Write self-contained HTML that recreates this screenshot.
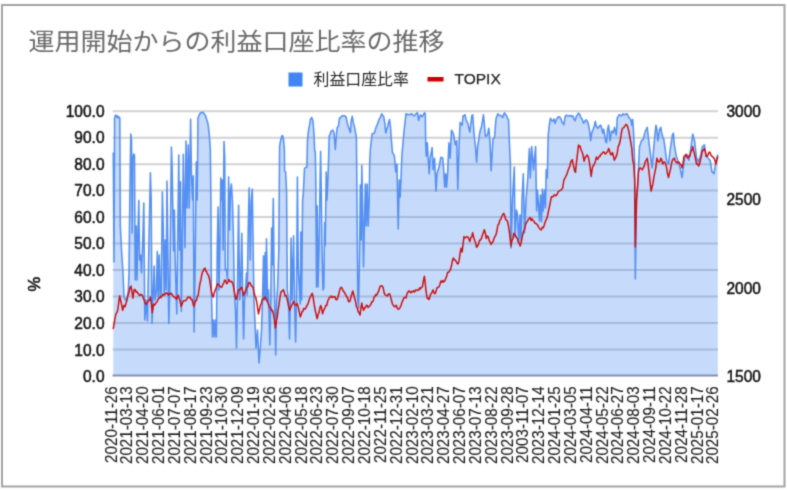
<!DOCTYPE html>
<html><head><meta charset="utf-8">
<style>
html,body{margin:0;padding:0;background:#fff;}
body{width:787px;height:491px;overflow:hidden;position:relative;}
svg{position:absolute;left:0;top:0;}
.t{font-family:"Liberation Sans","Noto Sans CJK JP",sans-serif;}
</style></head><body>
<svg width="787" height="491" viewBox="0 0 787 491">
<defs><filter id="bl" x="0" y="0" width="787" height="491" filterUnits="userSpaceOnUse" color-interpolation-filters="sRGB"><feConvolveMatrix order="3" kernelMatrix="0.02768 0.11101 0.02768 0.11101 0.44521 0.11101 0.02768 0.11101 0.02768" edgeMode="duplicate"/></filter></defs>
<g filter="url(#bl)">
<rect x="0" y="0" width="787" height="491" fill="#fff"/>
<rect x="2" y="5" width="782.5" height="481.5" fill="none" stroke="#a3a3a3" stroke-width="2"/>
<text x="28.5" y="50" transform="translate(28.5,0) scale(1.084,1) translate(-28.5,0)" font-family="'Liberation Sans','Noto Sans CJK JP',sans-serif" font-size="24" fill="#6a6a6a">運用開始からの利益口座比率の推移</text>
<rect x="288.5" y="72.5" width="14" height="14" fill="#4285f4"/>
<text x="313.5" y="85" font-family="'Liberation Sans','Noto Sans CJK JP',sans-serif" font-size="15.9" fill="#262626">利益口座比率</text>
<rect x="427.5" y="77" width="16" height="4.5" fill="#cc0000"/>
<text x="454.5" y="84" font-family="'Liberation Sans',sans-serif" font-size="15.5" fill="#222" stroke="#222" stroke-width="0.25">TOPIX</text>
<g stroke="#d2d2d2" stroke-width="2">
<line x1="112.5" x2="718.0" y1="349.43" y2="349.43"/>
<line x1="112.5" x2="718.0" y1="322.96" y2="322.96"/>
<line x1="112.5" x2="718.0" y1="296.49" y2="296.49"/>
<line x1="112.5" x2="718.0" y1="270.02" y2="270.02"/>
<line x1="112.5" x2="718.0" y1="243.55" y2="243.55"/>
<line x1="112.5" x2="718.0" y1="217.08" y2="217.08"/>
<line x1="112.5" x2="718.0" y1="190.61" y2="190.61"/>
<line x1="112.5" x2="718.0" y1="164.14" y2="164.14"/>
<line x1="112.5" x2="718.0" y1="137.67" y2="137.67"/>
<line x1="112.5" x2="718.0" y1="111.20" y2="111.20"/>
</g>
<polygon points="113.3,375.5 113.3,152.5 114.0,262.0 114.6,118.0 115.5,115.0 116.5,117.0 117.2,115.5 118.0,118.0 119.0,116.9 119.8,118.0 120.3,226.0 121.5,250.0 122.5,265.0 123.3,280.0 124.0,297.0 125.5,300.0 127.0,298.0 128.3,291.0 129.0,273.0 129.8,200.0 130.8,134.0 131.5,140.0 132.2,233.0 132.8,160.0 133.6,154.0 134.5,155.0 135.2,280.0 136.2,226.0 137.0,280.0 138.0,230.0 138.8,200.4 139.6,260.0 140.5,255.0 141.5,273.0 142.8,240.0 143.8,203.0 144.8,320.0 146.0,300.0 147.5,321.0 148.6,260.0 149.5,215.9 150.4,172.7 151.2,200.0 152.0,323.5 153.0,300.0 154.2,266.0 155.0,300.0 156.5,290.0 157.3,251.4 158.2,297.0 159.2,255.0 160.2,297.0 161.2,292.0 162.4,192.0 163.3,227.0 164.2,295.0 165.2,240.0 166.2,290.0 167.0,181.0 168.0,260.0 168.8,323.5 169.8,290.0 170.6,218.6 171.4,147.0 172.2,170.0 172.8,208.0 173.6,251.0 174.4,210.0 175.2,260.0 176.2,295.0 176.8,313.9 177.6,250.0 178.8,155.0 179.6,250.0 180.5,181.7 181.3,311.5 182.3,250.0 183.3,154.3 184.2,200.0 184.9,247.8 185.5,200.0 186.0,141.0 187.0,208.0 188.2,145.0 189.2,208.0 190.6,119.3 191.5,175.7 192.5,200.0 193.3,175.7 194.1,332.0 195.2,260.0 196.3,162.0 197.2,200.0 198.0,118.0 199.4,114.5 200.2,113.3 201.0,112.6 202.0,112.6 203.0,112.2 203.9,113.6 204.8,114.5 205.7,116.2 206.6,119.3 207.8,122.9 208.5,127.7 209.4,136.2 210.3,148.2 210.9,200.0 211.4,291.0 212.5,337.0 213.5,320.0 214.5,337.0 215.5,320.0 216.4,337.0 217.2,250.0 218.1,207.0 219.0,290.0 220.0,240.0 220.8,178.0 221.6,200.0 222.4,180.0 223.1,250.0 224.0,141.6 224.7,156.7 225.3,270.0 226.5,269.5 227.5,280.0 228.6,176.9 229.6,230.0 230.5,190.0 231.4,184.1 232.5,202.0 233.3,233.0 234.3,290.0 235.5,310.0 236.5,348.0 237.3,300.0 238.6,205.3 239.6,300.0 240.5,290.0 241.8,233.3 242.8,300.0 243.6,339.0 244.5,300.0 245.5,290.0 246.5,273.0 247.2,295.0 248.3,225.0 249.2,187.8 250.3,260.0 251.3,200.0 252.3,189.0 253.3,260.0 254.0,300.0 255.0,323.2 256.0,348.0 257.5,330.0 259.0,363.0 260.5,345.0 261.5,330.0 262.5,300.0 263.5,256.0 264.3,300.0 265.2,252.6 266.0,300.0 266.5,238.7 267.6,300.0 268.5,290.0 269.8,345.0 270.8,300.0 271.6,228.0 272.3,265.0 273.3,198.6 274.0,266.0 274.9,311.0 275.7,355.0 276.6,300.0 277.5,290.0 278.8,250.0 279.6,145.8 280.8,140.0 281.8,136.0 282.7,135.6 283.6,140.0 284.4,150.0 284.6,170.9 285.6,172.0 286.6,192.6 287.3,290.0 288.5,300.0 289.5,339.0 290.4,300.0 291.0,238.0 292.0,300.0 292.8,267.5 293.6,235.7 294.5,300.0 295.6,342.0 296.5,300.0 297.4,176.9 298.3,269.5 299.5,290.0 300.2,304.0 300.8,232.0 301.6,300.0 302.6,200.0 303.3,193.8 304.5,168.5 305.7,167.4 306.9,167.2 307.5,139.8 308.7,128.9 309.6,124.9 310.5,119.3 311.7,117.5 312.9,120.5 313.5,127.7 314.1,136.2 314.7,150.7 315.3,151.9 315.8,180.0 316.5,287.0 317.2,205.9 318.0,287.0 319.0,250.0 319.8,200.6 320.6,151.3 321.4,200.0 322.0,250.0 323.0,290.0 323.8,288.5 324.6,222.5 325.2,245.4 326.2,172.0 327.0,200.0 328.2,172.0 329.2,136.2 330.1,134.3 331.0,131.3 331.9,130.7 332.9,130.1 334.1,133.0 335.3,149.5 336.0,140.0 337.1,127.7 338.3,126.5 339.5,118.1 340.4,117.7 341.3,116.9 342.2,115.7 343.1,115.7 344.0,115.9 344.9,115.7 346.1,117.0 347.3,122.9 348.2,126.5 349.2,128.9 350.4,132.6 351.0,122.0 352.2,116.3 353.4,122.9 354.6,127.7 355.8,133.8 356.4,137.4 357.0,200.0 357.8,300.0 358.6,308.0 359.6,250.0 360.3,185.0 361.2,240.0 361.8,165.4 362.5,200.0 363.5,267.0 364.5,220.0 365.3,184.0 366.2,226.0 367.2,184.0 368.2,226.0 369.2,200.0 369.7,163.6 370.3,150.0 371.2,141.9 372.1,133.8 373.3,133.6 374.5,132.6 375.4,129.8 376.3,126.5 377.5,124.1 378.7,120.4 379.9,118.1 380.8,116.4 381.7,113.8 382.6,115.2 383.6,116.3 385.0,124.0 385.7,133.0 386.6,129.7 387.6,127.0 388.6,122.5 389.5,119.5 390.5,127.0 391.4,140.1 392.4,152.0 393.4,154.0 394.4,156.0 395.7,172.0 397.0,164.0 398.2,229.0 399.3,180.0 400.2,197.0 401.1,175.9 402.0,154.0 403.0,143.1 404.0,131.0 405.0,122.7 406.0,113.7 407.0,114.7 407.9,114.2 408.9,114.7 409.9,114.8 410.8,113.9 411.8,113.7 412.8,115.1 413.7,115.6 414.7,115.7 415.7,114.1 416.6,113.2 417.6,112.8 418.6,120.5 419.6,117.1 420.5,114.7 421.4,116.4 422.4,116.6 423.4,114.6 424.4,112.8 425.3,113.7 425.7,142.8 426.3,156.3 427.3,142.8 428.2,158.2 429.2,173.7 430.2,158.2 431.1,153.1 432.1,147.6 433.1,169.8 434.6,158.2 436.0,191.1 437.0,173.7 437.9,170.5 438.9,167.9 439.9,162.6 440.8,157.3 441.8,157.6 442.8,158.2 443.7,169.8 444.7,187.2 445.7,173.7 446.6,187.2 447.6,173.7 448.9,142.8 450.1,158.2 451.5,130.2 452.4,131.9 453.4,134.0 454.4,139.5 455.3,144.7 456.7,140.8 457.8,189.2 459.2,140.8 460.2,122.4 461.1,124.0 462.1,125.3 463.1,115.7 464.1,115.8 465.0,114.7 466.0,119.5 466.9,121.7 467.9,123.4 468.9,128.4 469.8,132.1 470.8,124.5 471.8,115.7 472.7,114.7 473.7,129.2 474.6,139.6 475.6,148.5 476.6,162.1 477.6,146.6 478.6,140.6 479.5,134.0 480.4,130.1 481.4,127.3 482.4,121.6 483.4,114.7 484.3,123.4 485.3,136.0 486.2,136.2 487.2,135.0 488.0,132.2 488.8,128.2 490.1,142.8 491.1,170.8 492.1,155.0 493.0,138.9 493.8,138.3 494.6,137.0 495.9,119.5 496.9,116.1 497.9,113.7 498.9,114.9 499.8,115.2 500.8,115.7 501.8,116.3 502.7,117.6 503.6,114.5 504.6,112.8 505.6,114.8 506.6,115.7 507.6,118.4 508.5,119.5 509.5,144.7 510.4,164.0 511.0,248.0 512.5,200.0 513.4,182.8 514.3,167.0 515.0,237.0 516.5,210.0 517.5,215.0 518.8,242.0 520.0,215.0 521.0,241.0 522.0,200.0 523.3,173.7 524.5,233.0 526.0,200.0 526.9,189.5 527.8,178.0 528.6,163.1 529.4,148.5 530.3,178.0 531.7,146.6 532.6,157.7 533.5,170.0 534.5,158.0 535.6,146.6 536.6,211.0 537.5,190.0 538.5,205.0 539.5,221.0 540.5,195.0 541.5,222.0 542.4,189.0 543.2,211.0 544.5,190.0 545.5,208.0 546.2,169.8 547.3,178.0 548.2,135.0 549.2,126.0 550.1,120.5 550.5,118.2 551.5,120.2 552.6,121.3 554.0,119.0 555.1,123.3 556.6,119.0 557.4,118.4 558.2,116.7 559.7,117.0 560.7,118.4 561.7,121.3 562.8,123.2 563.8,124.8 565.3,116.2 566.5,115.2 567.8,115.7 568.8,116.0 569.9,115.4 570.9,115.7 572.0,116.5 573.0,116.0 574.0,119.2 575.0,120.8 576.5,116.0 577.5,114.6 578.5,113.1 580.0,115.0 580.8,117.4 581.6,118.2 582.6,120.4 583.6,123.3 585.1,121.0 585.9,119.9 586.7,120.2 588.2,123.3 589.7,131.4 590.7,140.6 591.7,133.0 592.8,130.4 594.3,126.0 595.3,121.3 596.3,126.0 597.1,127.4 597.9,128.4 598.9,126.6 599.8,125.8 600.8,125.3 601.8,129.0 602.8,133.0 603.7,129.2 604.7,135.7 605.7,141.8 606.6,142.8 607.6,129.2 608.6,125.3 610.1,140.8 611.5,131.1 612.5,131.5 613.4,133.1 614.4,127.3 615.3,130.4 616.3,135.0 617.3,117.6 618.2,116.7 619.2,114.7 620.2,114.9 621.1,115.7 622.1,115.4 623.1,113.7 624.0,114.8 625.0,114.7 626.0,114.0 626.9,113.7 627.9,115.6 628.9,117.6 629.8,118.6 630.8,119.5 631.8,125.3 632.7,119.5 633.7,135.0 634.7,164.0 635.3,279.0 636.5,200.0 637.6,187.2 638.5,167.1 639.5,146.6 640.5,143.9 641.4,140.8 642.4,139.9 643.4,138.9 644.3,135.2 645.3,131.1 646.2,129.9 647.2,127.3 648.2,136.0 649.2,144.7 650.2,152.3 651.1,160.2 652.1,167.9 653.0,156.7 654.0,144.7 655.0,134.6 655.9,125.3 656.9,129.2 657.9,140.8 658.8,134.7 659.8,129.2 660.8,127.3 661.7,133.1 662.7,136.8 663.7,138.9 664.6,144.7 665.6,152.5 666.6,160.2 667.5,162.2 668.5,164.0 669.5,155.5 670.4,148.5 671.4,141.6 672.4,135.0 673.4,133.1 674.3,144.7 675.3,150.6 676.3,156.3 677.2,158.4 678.2,162.1 679.2,165.2 680.1,167.9 681.1,173.0 682.1,177.6 683.0,169.8 684.0,162.3 685.0,156.3 686.0,155.6 686.9,154.4 687.8,157.2 688.8,160.2 689.8,154.6 690.8,148.5 691.8,141.0 692.7,134.0 693.7,137.7 694.6,140.8 695.6,149.9 696.6,158.2 697.5,159.4 698.5,162.1 699.5,158.5 700.4,156.3 701.4,151.7 702.4,146.6 703.3,146.4 704.3,144.7 705.2,150.1 706.2,156.3 707.2,157.2 708.2,158.2 709.2,159.3 710.1,160.2 711.0,165.7 712.0,171.8 713.0,172.5 714.0,173.7 715.0,167.6 715.9,162.1 716.8,158.0 717.8,154.4 717.8,375.5" fill="#4285f4" fill-opacity="0.3" stroke="none"/>
<line x1="112.5" x2="718.0" y1="375.5" y2="375.5" stroke="#7f90b8" stroke-width="2"/>
<polyline points="113.3,152.5 114.0,262.0 114.6,118.0 115.5,115.0 116.5,117.0 117.2,115.5 118.0,118.0 119.0,116.9 119.8,118.0 120.3,226.0 121.5,250.0 122.5,265.0 123.3,280.0 124.0,297.0 125.5,300.0 127.0,298.0 128.3,291.0 129.0,273.0 129.8,200.0 130.8,134.0 131.5,140.0 132.2,233.0 132.8,160.0 133.6,154.0 134.5,155.0 135.2,280.0 136.2,226.0 137.0,280.0 138.0,230.0 138.8,200.4 139.6,260.0 140.5,255.0 141.5,273.0 142.8,240.0 143.8,203.0 144.8,320.0 146.0,300.0 147.5,321.0 148.6,260.0 149.5,215.9 150.4,172.7 151.2,200.0 152.0,323.5 153.0,300.0 154.2,266.0 155.0,300.0 156.5,290.0 157.3,251.4 158.2,297.0 159.2,255.0 160.2,297.0 161.2,292.0 162.4,192.0 163.3,227.0 164.2,295.0 165.2,240.0 166.2,290.0 167.0,181.0 168.0,260.0 168.8,323.5 169.8,290.0 170.6,218.6 171.4,147.0 172.2,170.0 172.8,208.0 173.6,251.0 174.4,210.0 175.2,260.0 176.2,295.0 176.8,313.9 177.6,250.0 178.8,155.0 179.6,250.0 180.5,181.7 181.3,311.5 182.3,250.0 183.3,154.3 184.2,200.0 184.9,247.8 185.5,200.0 186.0,141.0 187.0,208.0 188.2,145.0 189.2,208.0 190.6,119.3 191.5,175.7 192.5,200.0 193.3,175.7 194.1,332.0 195.2,260.0 196.3,162.0 197.2,200.0 198.0,118.0 199.4,114.5 200.2,113.3 201.0,112.6 202.0,112.6 203.0,112.2 203.9,113.6 204.8,114.5 205.7,116.2 206.6,119.3 207.8,122.9 208.5,127.7 209.4,136.2 210.3,148.2 210.9,200.0 211.4,291.0 212.5,337.0 213.5,320.0 214.5,337.0 215.5,320.0 216.4,337.0 217.2,250.0 218.1,207.0 219.0,290.0 220.0,240.0 220.8,178.0 221.6,200.0 222.4,180.0 223.1,250.0 224.0,141.6 224.7,156.7 225.3,270.0 226.5,269.5 227.5,280.0 228.6,176.9 229.6,230.0 230.5,190.0 231.4,184.1 232.5,202.0 233.3,233.0 234.3,290.0 235.5,310.0 236.5,348.0 237.3,300.0 238.6,205.3 239.6,300.0 240.5,290.0 241.8,233.3 242.8,300.0 243.6,339.0 244.5,300.0 245.5,290.0 246.5,273.0 247.2,295.0 248.3,225.0 249.2,187.8 250.3,260.0 251.3,200.0 252.3,189.0 253.3,260.0 254.0,300.0 255.0,323.2 256.0,348.0 257.5,330.0 259.0,363.0 260.5,345.0 261.5,330.0 262.5,300.0 263.5,256.0 264.3,300.0 265.2,252.6 266.0,300.0 266.5,238.7 267.6,300.0 268.5,290.0 269.8,345.0 270.8,300.0 271.6,228.0 272.3,265.0 273.3,198.6 274.0,266.0 274.9,311.0 275.7,355.0 276.6,300.0 277.5,290.0 278.8,250.0 279.6,145.8 280.8,140.0 281.8,136.0 282.7,135.6 283.6,140.0 284.4,150.0 284.6,170.9 285.6,172.0 286.6,192.6 287.3,290.0 288.5,300.0 289.5,339.0 290.4,300.0 291.0,238.0 292.0,300.0 292.8,267.5 293.6,235.7 294.5,300.0 295.6,342.0 296.5,300.0 297.4,176.9 298.3,269.5 299.5,290.0 300.2,304.0 300.8,232.0 301.6,300.0 302.6,200.0 303.3,193.8 304.5,168.5 305.7,167.4 306.9,167.2 307.5,139.8 308.7,128.9 309.6,124.9 310.5,119.3 311.7,117.5 312.9,120.5 313.5,127.7 314.1,136.2 314.7,150.7 315.3,151.9 315.8,180.0 316.5,287.0 317.2,205.9 318.0,287.0 319.0,250.0 319.8,200.6 320.6,151.3 321.4,200.0 322.0,250.0 323.0,290.0 323.8,288.5 324.6,222.5 325.2,245.4 326.2,172.0 327.0,200.0 328.2,172.0 329.2,136.2 330.1,134.3 331.0,131.3 331.9,130.7 332.9,130.1 334.1,133.0 335.3,149.5 336.0,140.0 337.1,127.7 338.3,126.5 339.5,118.1 340.4,117.7 341.3,116.9 342.2,115.7 343.1,115.7 344.0,115.9 344.9,115.7 346.1,117.0 347.3,122.9 348.2,126.5 349.2,128.9 350.4,132.6 351.0,122.0 352.2,116.3 353.4,122.9 354.6,127.7 355.8,133.8 356.4,137.4 357.0,200.0 357.8,300.0 358.6,308.0 359.6,250.0 360.3,185.0 361.2,240.0 361.8,165.4 362.5,200.0 363.5,267.0 364.5,220.0 365.3,184.0 366.2,226.0 367.2,184.0 368.2,226.0 369.2,200.0 369.7,163.6 370.3,150.0 371.2,141.9 372.1,133.8 373.3,133.6 374.5,132.6 375.4,129.8 376.3,126.5 377.5,124.1 378.7,120.4 379.9,118.1 380.8,116.4 381.7,113.8 382.6,115.2 383.6,116.3 385.0,124.0 385.7,133.0 386.6,129.7 387.6,127.0 388.6,122.5 389.5,119.5 390.5,127.0 391.4,140.1 392.4,152.0 393.4,154.0 394.4,156.0 395.7,172.0 397.0,164.0 398.2,229.0 399.3,180.0 400.2,197.0 401.1,175.9 402.0,154.0 403.0,143.1 404.0,131.0 405.0,122.7 406.0,113.7 407.0,114.7 407.9,114.2 408.9,114.7 409.9,114.8 410.8,113.9 411.8,113.7 412.8,115.1 413.7,115.6 414.7,115.7 415.7,114.1 416.6,113.2 417.6,112.8 418.6,120.5 419.6,117.1 420.5,114.7 421.4,116.4 422.4,116.6 423.4,114.6 424.4,112.8 425.3,113.7 425.7,142.8 426.3,156.3 427.3,142.8 428.2,158.2 429.2,173.7 430.2,158.2 431.1,153.1 432.1,147.6 433.1,169.8 434.6,158.2 436.0,191.1 437.0,173.7 437.9,170.5 438.9,167.9 439.9,162.6 440.8,157.3 441.8,157.6 442.8,158.2 443.7,169.8 444.7,187.2 445.7,173.7 446.6,187.2 447.6,173.7 448.9,142.8 450.1,158.2 451.5,130.2 452.4,131.9 453.4,134.0 454.4,139.5 455.3,144.7 456.7,140.8 457.8,189.2 459.2,140.8 460.2,122.4 461.1,124.0 462.1,125.3 463.1,115.7 464.1,115.8 465.0,114.7 466.0,119.5 466.9,121.7 467.9,123.4 468.9,128.4 469.8,132.1 470.8,124.5 471.8,115.7 472.7,114.7 473.7,129.2 474.6,139.6 475.6,148.5 476.6,162.1 477.6,146.6 478.6,140.6 479.5,134.0 480.4,130.1 481.4,127.3 482.4,121.6 483.4,114.7 484.3,123.4 485.3,136.0 486.2,136.2 487.2,135.0 488.0,132.2 488.8,128.2 490.1,142.8 491.1,170.8 492.1,155.0 493.0,138.9 493.8,138.3 494.6,137.0 495.9,119.5 496.9,116.1 497.9,113.7 498.9,114.9 499.8,115.2 500.8,115.7 501.8,116.3 502.7,117.6 503.6,114.5 504.6,112.8 505.6,114.8 506.6,115.7 507.6,118.4 508.5,119.5 509.5,144.7 510.4,164.0 511.0,248.0 512.5,200.0 513.4,182.8 514.3,167.0 515.0,237.0 516.5,210.0 517.5,215.0 518.8,242.0 520.0,215.0 521.0,241.0 522.0,200.0 523.3,173.7 524.5,233.0 526.0,200.0 526.9,189.5 527.8,178.0 528.6,163.1 529.4,148.5 530.3,178.0 531.7,146.6 532.6,157.7 533.5,170.0 534.5,158.0 535.6,146.6 536.6,211.0 537.5,190.0 538.5,205.0 539.5,221.0 540.5,195.0 541.5,222.0 542.4,189.0 543.2,211.0 544.5,190.0 545.5,208.0 546.2,169.8 547.3,178.0 548.2,135.0 549.2,126.0 550.1,120.5 550.5,118.2 551.5,120.2 552.6,121.3 554.0,119.0 555.1,123.3 556.6,119.0 557.4,118.4 558.2,116.7 559.7,117.0 560.7,118.4 561.7,121.3 562.8,123.2 563.8,124.8 565.3,116.2 566.5,115.2 567.8,115.7 568.8,116.0 569.9,115.4 570.9,115.7 572.0,116.5 573.0,116.0 574.0,119.2 575.0,120.8 576.5,116.0 577.5,114.6 578.5,113.1 580.0,115.0 580.8,117.4 581.6,118.2 582.6,120.4 583.6,123.3 585.1,121.0 585.9,119.9 586.7,120.2 588.2,123.3 589.7,131.4 590.7,140.6 591.7,133.0 592.8,130.4 594.3,126.0 595.3,121.3 596.3,126.0 597.1,127.4 597.9,128.4 598.9,126.6 599.8,125.8 600.8,125.3 601.8,129.0 602.8,133.0 603.7,129.2 604.7,135.7 605.7,141.8 606.6,142.8 607.6,129.2 608.6,125.3 610.1,140.8 611.5,131.1 612.5,131.5 613.4,133.1 614.4,127.3 615.3,130.4 616.3,135.0 617.3,117.6 618.2,116.7 619.2,114.7 620.2,114.9 621.1,115.7 622.1,115.4 623.1,113.7 624.0,114.8 625.0,114.7 626.0,114.0 626.9,113.7 627.9,115.6 628.9,117.6 629.8,118.6 630.8,119.5 631.8,125.3 632.7,119.5 633.7,135.0 634.7,164.0 635.3,279.0 636.5,200.0 637.6,187.2 638.5,167.1 639.5,146.6 640.5,143.9 641.4,140.8 642.4,139.9 643.4,138.9 644.3,135.2 645.3,131.1 646.2,129.9 647.2,127.3 648.2,136.0 649.2,144.7 650.2,152.3 651.1,160.2 652.1,167.9 653.0,156.7 654.0,144.7 655.0,134.6 655.9,125.3 656.9,129.2 657.9,140.8 658.8,134.7 659.8,129.2 660.8,127.3 661.7,133.1 662.7,136.8 663.7,138.9 664.6,144.7 665.6,152.5 666.6,160.2 667.5,162.2 668.5,164.0 669.5,155.5 670.4,148.5 671.4,141.6 672.4,135.0 673.4,133.1 674.3,144.7 675.3,150.6 676.3,156.3 677.2,158.4 678.2,162.1 679.2,165.2 680.1,167.9 681.1,173.0 682.1,177.6 683.0,169.8 684.0,162.3 685.0,156.3 686.0,155.6 686.9,154.4 687.8,157.2 688.8,160.2 689.8,154.6 690.8,148.5 691.8,141.0 692.7,134.0 693.7,137.7 694.6,140.8 695.6,149.9 696.6,158.2 697.5,159.4 698.5,162.1 699.5,158.5 700.4,156.3 701.4,151.7 702.4,146.6 703.3,146.4 704.3,144.7 705.2,150.1 706.2,156.3 707.2,157.2 708.2,158.2 709.2,159.3 710.1,160.2 711.0,165.7 712.0,171.8 713.0,172.5 714.0,173.7 715.0,167.6 715.9,162.1 716.8,158.0 717.8,154.4" fill="none" stroke="#5590f2" stroke-width="1.55" stroke-linejoin="round"/>
<polyline points="113.0,329.0 113.6,327.0 114.4,322.1 115.2,317.2 116.0,313.9 116.9,312.4 117.8,310.0 118.8,301.6 119.7,295.8 120.6,300.1 121.5,304.2 122.7,310.3 123.9,305.4 125.1,306.6 126.0,303.2 126.9,300.6 127.7,296.1 128.5,294.2 129.3,291.0 130.2,287.2 131.1,286.1 132.0,292.0 132.9,298.2 134.1,289.7 135.1,289.6 136.0,292.1 136.9,291.5 137.8,293.3 138.6,293.7 139.4,295.5 140.2,295.2 141.0,294.3 141.8,294.8 142.6,295.8 143.5,298.6 144.4,300.6 145.3,303.7 146.2,304.2 147.0,303.2 147.8,301.5 148.6,300.6 149.5,300.2 150.4,297.0 151.3,303.5 152.2,312.7 153.5,304.2 154.4,305.2 155.3,304.0 156.2,302.3 157.1,301.8 157.9,299.5 158.7,298.3 159.5,298.2 160.3,296.8 161.1,297.5 161.9,295.8 162.7,294.4 163.5,295.2 164.3,294.6 165.1,294.4 165.9,293.0 166.7,292.7 167.6,294.1 168.5,295.2 169.4,293.3 170.4,294.0 171.2,293.3 172.0,294.3 172.8,295.8 173.7,296.9 174.6,297.0 175.5,298.0 176.4,299.4 177.3,296.7 178.2,295.2 179.1,298.2 180.0,300.6 181.2,306.6 182.1,304.1 183.0,301.8 183.9,300.6 184.8,300.6 185.6,300.7 186.5,299.6 187.3,298.2 188.1,297.0 188.9,297.6 189.7,297.0 190.5,297.9 191.3,299.7 192.1,299.4 193.0,303.7 193.9,306.6 194.8,303.0 195.7,300.6 196.5,300.4 197.3,296.3 198.1,295.8 199.0,289.5 199.9,283.7 200.8,280.2 201.7,275.2 202.5,272.0 203.4,270.8 204.2,268.6 205.0,268.2 205.8,271.1 206.6,271.6 207.6,274.2 208.5,275.2 209.7,280.1 210.6,286.3 211.5,292.1 212.4,295.7 213.3,297.0 214.2,293.1 215.1,290.3 215.9,288.7 216.7,286.2 217.5,283.7 218.3,284.7 219.1,285.2 219.9,286.1 220.7,287.1 221.5,287.4 222.3,286.1 223.1,284.0 223.9,282.6 224.7,280.1 225.6,280.6 226.6,283.7 227.4,282.9 228.2,281.3 229.0,279.5 229.8,281.6 230.6,281.7 231.4,281.3 232.3,282.5 233.2,284.9 234.1,290.0 235.0,295.8 236.2,299.4 237.1,296.3 238.0,292.1 238.9,289.5 239.8,289.7 240.7,288.4 241.6,287.3 242.6,290.6 243.5,295.8 244.4,292.8 245.3,292.1 246.2,288.4 247.1,287.3 247.9,286.5 248.7,283.0 249.5,282.5 250.4,283.5 251.3,286.1 252.2,286.4 253.1,287.3 254.0,292.7 254.9,295.8 255.8,297.5 256.7,301.8 257.6,307.7 258.5,313.9 259.4,309.8 260.4,305.4 261.3,303.6 262.2,299.4 263.0,299.6 263.8,298.9 264.6,297.0 265.5,297.5 266.4,299.4 267.2,301.1 268.0,303.0 268.8,305.4 269.7,307.8 270.6,307.8 271.5,310.4 272.4,310.3 273.3,313.5 274.2,318.7 275.4,328.0 276.4,321.2 277.3,316.3 278.2,309.4 279.1,304.2 280.0,297.4 280.9,292.1 281.7,291.3 282.5,290.8 283.3,289.7 284.2,292.0 285.1,295.8 286.0,295.5 286.9,298.2 287.8,302.2 288.7,306.6 289.9,310.3 290.8,307.5 291.7,305.4 292.6,303.5 293.6,301.2 294.6,304.5 295.5,305.0 296.4,304.9 297.2,303.6 298.5,308.0 299.4,312.5 300.3,316.9 301.2,314.6 302.1,311.5 302.9,311.2 303.7,308.5 304.5,309.0 305.3,309.0 306.1,307.4 306.9,305.4 307.7,304.5 308.5,302.3 309.3,299.4 310.3,297.0 311.3,295.0 312.3,293.3 313.2,297.6 314.1,304.2 315.1,309.5 316.0,313.9 317.2,318.7 318.1,314.4 319.0,312.7 319.9,307.8 320.8,305.4 321.7,308.8 322.6,313.9 323.4,310.9 324.2,309.4 325.0,307.8 325.9,305.3 326.8,305.4 327.7,300.9 328.6,299.4 329.5,297.2 330.4,297.0 331.3,296.1 332.2,297.5 333.1,296.8 334.1,297.0 335.0,296.8 335.9,299.4 336.8,299.8 337.7,298.0 338.6,294.8 339.5,290.9 340.4,288.0 341.3,287.3 342.2,288.4 343.1,290.9 344.0,291.7 344.9,293.5 345.8,294.8 346.7,297.0 347.5,297.5 348.4,301.2 349.2,301.8 350.1,300.9 351.0,297.0 351.9,293.8 352.8,290.9 353.7,294.5 354.6,298.2 355.5,301.2 356.4,306.6 357.3,307.9 358.2,311.5 359.1,312.8 360.0,315.1 360.9,308.3 361.8,303.0 362.7,307.6 363.6,310.3 364.5,308.0 365.4,307.8 366.3,305.2 367.2,305.5 368.1,307.4 369.1,306.6 370.1,305.4 371.0,304.0 371.8,301.8 372.5,301.9 373.3,300.6 374.1,297.2 374.9,296.7 375.7,294.6 376.5,295.2 377.3,294.0 378.1,292.1 378.9,290.7 379.7,287.4 380.5,286.1 381.4,285.7 382.3,286.1 383.2,287.9 384.1,292.6 385.0,294.6 385.8,295.2 386.6,295.7 387.6,295.9 388.5,293.9 389.5,293.7 390.5,296.3 391.5,300.5 392.4,303.8 393.4,305.3 394.4,306.8 395.3,306.4 396.3,305.3 397.2,308.2 398.2,309.2 399.2,308.9 400.1,307.3 401.1,305.3 402.1,301.9 403.0,300.2 404.0,297.6 405.0,297.4 406.0,298.0 407.0,293.6 408.0,292.0 408.9,290.9 409.9,291.9 410.8,292.8 411.8,291.4 412.7,292.0 413.7,290.8 414.7,291.9 415.6,290.0 416.6,289.9 417.6,290.6 418.5,290.1 419.5,288.0 420.5,289.0 421.4,286.9 422.4,287.0 423.4,280.8 424.4,276.3 425.2,282.8 426.0,291.0 427.3,298.6 428.2,298.1 429.2,299.5 430.1,295.7 431.1,293.7 432.1,292.2 433.0,289.9 434.0,293.0 435.0,293.7 435.9,291.9 436.9,288.0 437.9,287.4 438.9,287.0 439.9,284.5 440.8,281.1 441.8,282.3 442.7,280.5 443.7,282.0 444.7,281.0 445.7,278.6 446.6,276.5 447.6,272.4 448.6,272.3 449.5,271.2 450.5,269.5 451.5,265.6 452.4,260.8 453.4,257.9 454.4,260.1 455.3,260.0 456.3,261.8 457.2,263.7 458.2,263.7 459.2,259.9 460.1,253.1 461.1,248.2 462.1,252.0 463.1,244.0 464.0,236.6 465.0,237.9 465.9,237.3 466.9,236.6 467.9,237.2 468.8,238.7 469.8,241.5 470.8,237.6 471.7,236.9 472.7,232.8 473.7,237.6 474.7,240.5 475.6,242.8 476.6,247.3 477.6,246.0 478.5,244.2 479.5,240.5 480.4,240.0 481.4,238.5 482.4,235.2 483.3,232.8 484.3,229.8 485.3,233.0 486.3,238.5 487.2,236.1 488.2,236.6 489.2,240.6 490.1,242.2 491.1,244.4 492.1,242.5 493.0,241.8 494.0,238.5 495.0,236.4 496.0,234.7 496.9,231.0 497.9,225.0 498.9,224.0 499.8,220.3 500.8,219.2 501.8,216.5 502.7,214.7 503.7,213.4 504.6,215.5 505.6,219.2 506.6,220.4 507.5,221.1 508.5,226.2 509.5,232.8 510.2,239.2 511.0,246.0 511.9,240.7 512.9,238.8 513.8,233.3 514.7,234.2 515.6,235.9 516.6,237.7 517.5,238.8 518.4,242.4 519.3,243.4 520.2,246.1 521.1,243.1 522.1,237.6 523.0,233.3 523.9,230.6 524.9,227.9 525.8,223.6 526.7,222.3 527.6,220.9 528.5,218.9 529.4,218.6 530.3,217.6 531.2,220.4 532.1,219.0 533.0,220.5 533.9,221.3 534.9,223.0 535.8,223.4 536.7,224.1 537.6,225.0 538.5,226.9 539.5,228.4 540.4,229.6 541.3,229.9 542.3,227.2 543.2,227.8 544.1,225.7 545.0,222.4 545.9,220.2 546.8,218.6 547.7,215.2 548.7,210.1 549.6,205.8 550.5,201.4 551.4,196.7 552.3,196.8 553.2,196.7 554.1,194.8 555.1,195.1 556.1,195.8 557.2,194.1 558.2,191.7 559.0,191.2 559.9,190.7 560.7,190.2 561.7,189.5 562.7,187.7 563.8,180.5 564.5,178.9 565.3,177.5 566.0,176.0 566.8,174.4 567.8,171.3 568.9,168.3 569.9,166.1 570.9,161.2 571.6,161.0 572.4,159.7 573.1,164.6 573.9,167.3 574.7,171.2 575.5,172.4 576.2,164.5 577.0,158.1 577.8,151.7 578.5,145.0 579.2,146.8 580.0,146.0 581.0,150.0 582.1,152.0 583.1,155.5 584.1,161.2 584.9,158.0 585.6,157.0 586.4,155.9 587.2,155.1 588.2,156.9 589.2,161.2 590.2,168.1 591.2,176.5 592.0,170.1 592.8,166.3 593.8,165.2 594.7,163.0 595.5,160.9 596.3,157.1 597.1,159.2 598.0,159.0 598.9,156.4 599.9,156.6 600.8,154.4 601.8,153.9 602.8,152.4 603.8,151.8 604.7,153.4 605.7,154.0 606.6,152.4 607.6,151.9 608.6,148.5 609.5,150.6 610.5,154.4 611.5,154.8 612.4,152.4 613.4,156.0 614.4,160.2 615.3,158.2 616.3,156.3 617.2,152.9 618.2,146.6 619.2,144.7 620.2,140.8 621.2,134.0 622.1,129.2 623.0,128.0 624.0,127.3 625.0,125.9 626.0,124.4 627.0,125.4 627.9,127.3 628.8,131.2 629.8,137.0 630.8,142.2 631.8,148.5 632.7,160.2 633.7,164.0 634.7,181.4 635.3,247.0 636.5,200.0 637.5,186.6 638.5,171.8 639.5,168.4 640.5,167.9 641.5,169.0 642.4,169.8 643.3,167.7 644.3,166.0 645.3,161.7 646.3,160.2 647.2,158.2 648.2,165.4 649.2,173.7 650.2,182.8 651.1,191.1 652.0,187.3 653.0,183.4 654.0,176.3 655.0,171.8 656.0,166.5 656.9,158.2 657.8,161.0 658.8,162.1 659.8,161.6 660.8,158.2 661.8,159.9 662.7,164.0 663.7,162.3 664.6,162.1 665.6,163.6 666.6,167.9 667.5,173.6 668.5,177.6 669.5,173.0 670.4,169.8 671.4,163.9 672.4,160.2 673.3,159.0 674.3,158.2 675.3,161.4 676.3,162.1 677.2,163.1 678.2,162.1 679.2,162.3 680.1,164.0 681.1,164.9 682.1,167.9 683.0,163.4 684.0,156.3 685.0,155.6 685.9,154.4 686.9,156.9 687.9,158.2 688.8,156.0 689.8,156.3 690.8,152.1 691.7,150.5 692.7,146.6 693.7,151.1 694.6,154.4 695.6,159.0 696.6,164.0 697.5,163.7 698.5,166.0 699.5,164.4 700.4,160.2 701.4,155.8 702.4,150.5 703.3,150.4 704.3,148.5 705.2,151.2 706.2,156.3 707.2,156.4 708.2,154.4 709.2,152.1 710.1,152.4 711.0,155.4 712.0,156.3 713.0,157.1 714.0,158.2 715.0,160.6 715.9,164.0 716.8,160.3 717.8,156.3" fill="none" stroke="#cc1111" stroke-width="1.5" stroke-linejoin="round"/>
<g font-family="'Liberation Sans',sans-serif" font-size="15.5" fill="#151515" stroke="#151515" stroke-width="0.5" text-anchor="end" dominant-baseline="central">
<text transform="translate(104.5,376.60) scale(1,1.04)">0.0</text>
<text transform="translate(104.5,350.03) scale(1,1.04)">10.0</text>
<text transform="translate(104.5,323.46) scale(1,1.04)">20.0</text>
<text transform="translate(104.5,296.89) scale(1,1.04)">30.0</text>
<text transform="translate(104.5,270.32) scale(1,1.04)">40.0</text>
<text transform="translate(104.5,243.75) scale(1,1.04)">50.0</text>
<text transform="translate(104.5,217.18) scale(1,1.04)">60.0</text>
<text transform="translate(104.5,190.61) scale(1,1.04)">70.0</text>
<text transform="translate(104.5,164.04) scale(1,1.04)">80.0</text>
<text transform="translate(104.5,137.47) scale(1,1.04)">90.0</text>
<text transform="translate(104.5,110.90) scale(1,1.04)">100.0</text>
</g>
<g font-family="'Liberation Sans',sans-serif" font-size="15.5" fill="#151515" stroke="#151515" stroke-width="0.5" text-anchor="start" dominant-baseline="central">
<text transform="translate(726.5,376.60) scale(1,1.04)">1500</text>
<text transform="translate(726.5,288.13) scale(1,1.04)">2000</text>
<text transform="translate(726.5,199.66) scale(1,1.04)">2500</text>
<text transform="translate(726.5,111.19) scale(1,1.04)">3000</text>
</g>
<text transform="translate(34.1,284.2) rotate(-90)" font-family="'Liberation Sans',sans-serif" font-size="16.5" fill="#151515" stroke="#151515" stroke-width="0.6" text-anchor="middle" dominant-baseline="central">%</text>
<g font-family="'Liberation Sans',sans-serif" font-size="15.2" fill="#1a1a1a" stroke="#1a1a1a" stroke-width="0.1" text-anchor="end" dominant-baseline="central">
<text transform="translate(110.90,386.3) rotate(-90) scale(1,1.06)">2020-11-26</text>
<text transform="translate(126.74,386.3) rotate(-90) scale(1,1.06)">2021-03-13</text>
<text transform="translate(142.58,386.3) rotate(-90) scale(1,1.06)">2021-04-20</text>
<text transform="translate(158.42,386.3) rotate(-90) scale(1,1.06)">2021-06-01</text>
<text transform="translate(174.26,386.3) rotate(-90) scale(1,1.06)">2021-07-07</text>
<text transform="translate(190.10,386.3) rotate(-90) scale(1,1.06)">2021-08-17</text>
<text transform="translate(205.94,386.3) rotate(-90) scale(1,1.06)">2021-09-23</text>
<text transform="translate(221.78,386.3) rotate(-90) scale(1,1.06)">2021-10-30</text>
<text transform="translate(237.62,386.3) rotate(-90) scale(1,1.06)">2021-12-09</text>
<text transform="translate(253.46,386.3) rotate(-90) scale(1,1.06)">2022-01-19</text>
<text transform="translate(269.30,386.3) rotate(-90) scale(1,1.06)">2022-02-26</text>
<text transform="translate(285.14,386.3) rotate(-90) scale(1,1.06)">2022-04-06</text>
<text transform="translate(300.98,386.3) rotate(-90) scale(1,1.06)">2022-05-18</text>
<text transform="translate(316.82,386.3) rotate(-90) scale(1,1.06)">2022-06-23</text>
<text transform="translate(332.66,386.3) rotate(-90) scale(1,1.06)">2022-07-30</text>
<text transform="translate(348.50,386.3) rotate(-90) scale(1,1.06)">2022-09-07</text>
<text transform="translate(364.34,386.3) rotate(-90) scale(1,1.06)">2022-10-18</text>
<text transform="translate(380.18,386.3) rotate(-90) scale(1,1.06)">2022-11-25</text>
<text transform="translate(396.02,386.3) rotate(-90) scale(1,1.06)">2022-12-31</text>
<text transform="translate(411.86,386.3) rotate(-90) scale(1,1.06)">2023-02-10</text>
<text transform="translate(427.70,386.3) rotate(-90) scale(1,1.06)">2023-03-21</text>
<text transform="translate(443.54,386.3) rotate(-90) scale(1,1.06)">2023-04-27</text>
<text transform="translate(459.38,386.3) rotate(-90) scale(1,1.06)">2023-06-07</text>
<text transform="translate(475.22,386.3) rotate(-90) scale(1,1.06)">2023-07-13</text>
<text transform="translate(491.06,386.3) rotate(-90) scale(1,1.06)">2023-08-22</text>
<text transform="translate(506.90,386.3) rotate(-90) scale(1,1.06)">2023-09-28</text>
<text transform="translate(522.74,386.3) rotate(-90) scale(1,1.06)">2003-11-07</text>
<text transform="translate(538.58,386.3) rotate(-90) scale(1,1.06)">2023-12-14</text>
<text transform="translate(554.42,386.3) rotate(-90) scale(1,1.06)">2024-01-25</text>
<text transform="translate(570.26,386.3) rotate(-90) scale(1,1.06)">2024-03-05</text>
<text transform="translate(586.10,386.3) rotate(-90) scale(1,1.06)">2024-04-11</text>
<text transform="translate(601.94,386.3) rotate(-90) scale(1,1.06)">2024-05-22</text>
<text transform="translate(617.78,386.3) rotate(-90) scale(1,1.06)">2024-06-27</text>
<text transform="translate(633.62,386.3) rotate(-90) scale(1,1.06)">2024-08-03</text>
<text transform="translate(649.46,386.3) rotate(-90) scale(1,1.06)">2024-09-11</text>
<text transform="translate(665.30,386.3) rotate(-90) scale(1,1.06)">2024-10-22</text>
<text transform="translate(681.14,386.3) rotate(-90) scale(1,1.06)">2024-11-28</text>
<text transform="translate(696.98,386.3) rotate(-90) scale(1,1.06)">2025-01-17</text>
<text transform="translate(712.82,386.3) rotate(-90) scale(1,1.06)">2025-02-26</text>
</g>
</g>
</svg>
</body></html>
